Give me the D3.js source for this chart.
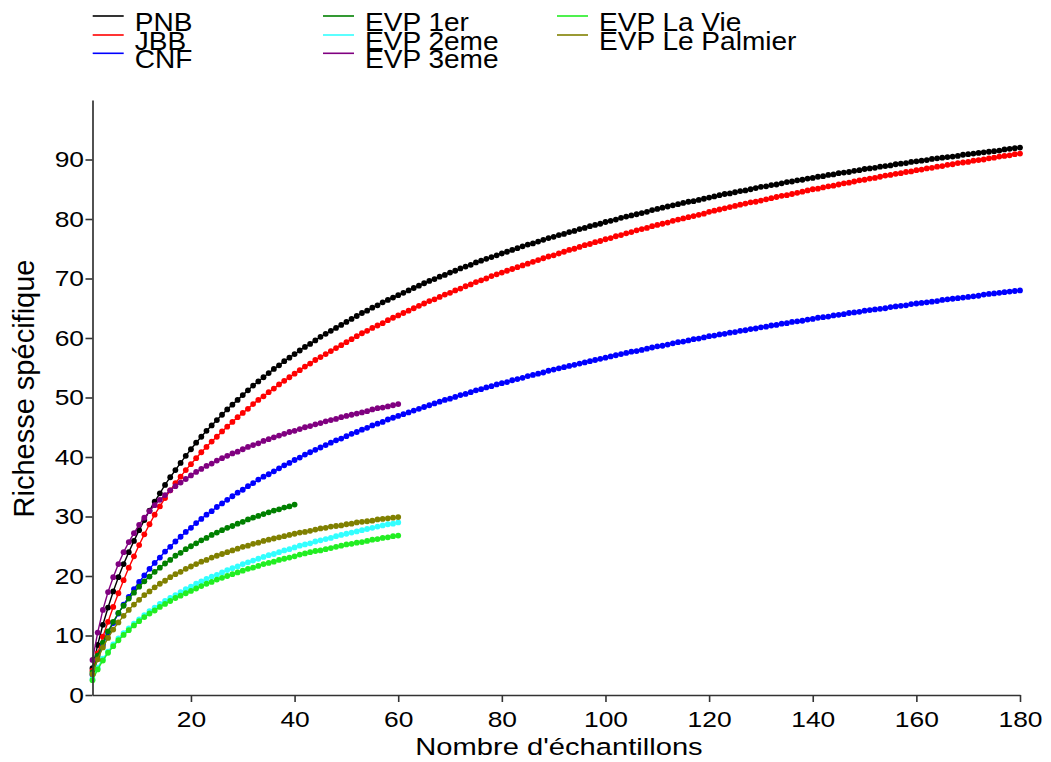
<!DOCTYPE html>
<html><head><meta charset="utf-8">
<script src="https://cdn.jsdelivr.net/npm/d3@7"></script>
<style>
body{margin:0;background:#fff;}
svg text{font-family:"Liberation Sans",Arial,sans-serif;fill:#000;}
</style></head><body>
<svg id="chart" width="1051" height="762"></svg>
<script>
// ---- data (species richness by number of samples) ----
const seriesNames = ["PNB","JBB","CNF","EVP 1er","EVP 2eme","EVP 3eme","EVP La Vie","EVP Le Palmier"];
const seriesColors = ["#000000","#ff0000","#0000ff","#008000","#33ffff","#800080","#22ee22","#808000"];
const xTickValues = [20,40,60,80,100,120,140,160,180];
const yTickValues = [0,10,20,30,40,50,60,70,80,90];

const PNB = [
4.5,8.4,11.8,14.7,17.4,19.8,22.0,24.0,25.9,27.7,
29.4,31.0,32.5,33.9,35.3,36.6,37.8,39.0,40.2,41.3,
42.4,43.4,44.4,45.3,46.2,47.1,48.0,48.8,49.6,50.4,
51.2,52.0,52.7,53.4,54.1,54.8,55.4,56.1,56.7,57.3,
57.9,58.5,59.0,59.6,60.2,60.7,61.2,61.7,62.2,62.7,
63.2,63.7,64.2,64.6,65.1,65.5,66.0,66.4,66.8,67.2,
67.6,68.0,68.4,68.8,69.2,69.6,69.9,70.3,70.6,71.0,
71.3,71.7,72.0,72.3,72.7,73.0,73.3,73.6,73.9,74.2,
74.5,74.8,75.1,75.4,75.7,75.9,76.2,76.5,76.8,77.0,
77.3,77.5,77.8,78.0,78.3,78.5,78.8,79.0,79.2,79.5,
79.7,79.9,80.2,80.4,80.6,80.8,81.0,81.2,81.5,81.7,
81.9,82.1,82.3,82.5,82.7,82.9,83.0,83.2,83.4,83.6,
83.8,84.0,84.2,84.3,84.5,84.7,84.8,85.0,85.2,85.4,
85.5,85.7,85.8,86.0,86.2,86.3,86.5,86.6,86.8,86.9,
87.1,87.2,87.4,87.5,87.7,87.8,87.9,88.1,88.2,88.4,
88.5,88.6,88.8,88.9,89.0,89.2,89.3,89.4,89.6,89.7,
89.8,89.9,90.1,90.2,90.3,90.4,90.5,90.6,90.8,90.9,
91.0,91.1,91.2,91.3,91.4,91.5,91.7,91.8,91.9,92.0];

const JBB = [
4.1,7.0,9.8,12.3,14.8,17.1,19.3,21.4,23.3,25.2,
27.0,28.7,30.3,31.7,33.1,34.4,35.6,36.7,37.8,38.8,
39.8,40.8,41.7,42.6,43.4,44.3,45.1,45.9,46.7,47.4,
48.1,48.9,49.6,50.2,50.9,51.5,52.2,52.8,53.4,54.0,
54.6,55.2,55.7,56.3,56.8,57.3,57.8,58.3,58.8,59.3,
59.8,60.3,60.8,61.2,61.7,62.1,62.5,63.0,63.4,63.8,
64.2,64.6,65.0,65.4,65.8,66.2,66.5,66.9,67.3,67.6,
68.0,68.3,68.7,69.0,69.4,69.7,70.0,70.4,70.7,71.0,
71.3,71.6,71.9,72.2,72.5,72.8,73.1,73.4,73.7,73.9,
74.2,74.5,74.8,75.0,75.3,75.6,75.8,76.1,76.3,76.6,
76.8,77.1,77.3,77.6,77.8,78.1,78.3,78.5,78.8,79.0,
79.2,79.4,79.7,79.9,80.1,80.3,80.5,80.7,80.9,81.2,
81.4,81.6,81.8,82.0,82.2,82.4,82.6,82.8,82.9,83.1,
83.3,83.5,83.7,83.9,84.0,84.2,84.4,84.6,84.8,85.0,
85.1,85.3,85.5,85.6,85.8,86.0,86.1,86.3,86.5,86.6,
86.8,86.9,87.1,87.3,87.4,87.6,87.7,87.9,88.0,88.2,
88.3,88.5,88.6,88.8,88.9,89.1,89.2,89.4,89.5,89.6,
89.8,89.9,90.0,90.2,90.3,90.5,90.6,90.7,90.9,91.0];

const CNF = [
3.4,6.1,8.4,10.4,12.1,13.7,15.2,16.5,17.8,19.0,
20.1,21.2,22.2,23.1,24.1,24.9,25.8,26.6,27.4,28.1,
28.9,29.6,30.3,30.9,31.6,32.2,32.8,33.4,34.0,34.5,
35.1,35.6,36.2,36.7,37.1,37.6,38.1,38.6,39.0,39.5,
39.9,40.4,40.8,41.2,41.6,42.0,42.4,42.8,43.1,43.5,
43.9,44.2,44.6,44.9,45.3,45.6,45.9,46.3,46.6,46.9,
47.2,47.5,47.8,48.1,48.4,48.7,49.0,49.3,49.6,49.8,
50.1,50.4,50.6,50.9,51.2,51.4,51.7,51.9,52.2,52.4,
52.6,52.9,53.1,53.3,53.6,53.8,54.0,54.2,54.5,54.7,
54.9,55.1,55.3,55.5,55.7,55.9,56.1,56.3,56.5,56.7,
56.9,57.1,57.3,57.5,57.7,57.8,58.0,58.2,58.4,58.6,
58.7,58.9,59.1,59.3,59.4,59.6,59.8,59.9,60.1,60.3,
60.4,60.6,60.7,60.9,61.0,61.2,61.3,61.5,61.6,61.8,
61.9,62.1,62.2,62.4,62.5,62.7,62.8,62.9,63.1,63.2,
63.4,63.5,63.6,63.8,63.9,64.0,64.2,64.3,64.4,64.6,
64.7,64.8,64.9,65.0,65.2,65.3,65.4,65.5,65.7,65.8,
65.9,66.0,66.1,66.2,66.4,66.5,66.6,66.7,66.8,66.9,
67.0,67.1,67.3,67.4,67.5,67.6,67.7,67.8,67.9,68.0];

const EVP_1er = [
3.8,6.6,8.8,10.7,12.3,13.8,15.0,16.2,17.2,18.2,
19.1,19.9,20.7,21.4,22.1,22.7,23.4,23.9,24.5,25.0,
25.5,26.0,26.4,26.9,27.3,27.7,28.1,28.4,28.8,29.1,
29.5,29.8,30.1,30.4,30.7,31.0,31.2,31.5,31.7,32.0];

const EVP_2eme = [
2.7,4.6,6.1,7.3,8.5,9.5,10.4,11.2,12.0,12.7,
13.4,14.1,14.7,15.3,15.8,16.3,16.8,17.3,17.8,18.2,
18.7,19.1,19.5,19.9,20.2,20.6,21.0,21.3,21.6,22.0,
22.3,22.6,22.9,23.2,23.5,23.7,24.0,24.3,24.5,24.8,
25.1,25.3,25.5,25.8,26.0,26.2,26.4,26.7,26.9,27.1,
27.3,27.5,27.7,27.9,28.1,28.3,28.5,28.7,28.8,29.0];

const EVP_3eme = [
5.9,10.5,14.3,17.3,19.8,22.0,24.0,25.7,27.2,28.6,
29.8,30.9,31.9,32.8,33.6,34.4,35.1,35.7,36.3,36.9,
37.5,38.0,38.5,38.9,39.4,39.8,40.2,40.6,40.9,41.3,
41.7,42.0,42.3,42.7,43.0,43.3,43.6,43.9,44.2,44.4,
44.7,45.0,45.2,45.5,45.7,46.0,46.2,46.4,46.7,46.9,
47.1,47.3,47.5,47.7,48.0,48.2,48.3,48.5,48.7,48.9];

const EVP_LaVie = [
2.5,4.3,5.8,7.1,8.2,9.2,10.1,10.9,11.7,12.4,
13.1,13.7,14.2,14.8,15.3,15.8,16.3,16.7,17.1,17.5,
17.9,18.3,18.7,19.0,19.4,19.7,20.0,20.3,20.6,20.9,
21.2,21.4,21.7,22.0,22.2,22.4,22.7,22.9,23.1,23.3,
23.6,23.8,24.0,24.2,24.3,24.5,24.7,24.9,25.1,25.3,
25.4,25.6,25.7,25.9,26.1,26.2,26.4,26.5,26.7,26.8];

const EVP_LePalmier = [
3.5,6.0,8.0,9.6,11.0,12.2,13.3,14.3,15.2,16.0,
16.8,17.4,18.1,18.7,19.2,19.8,20.3,20.7,21.2,21.6,
22.0,22.4,22.7,23.1,23.4,23.7,24.0,24.3,24.6,24.9,
25.1,25.4,25.6,25.9,26.1,26.3,26.5,26.7,26.9,27.1,
27.3,27.4,27.6,27.8,28.0,28.1,28.3,28.4,28.5,28.7,
28.8,29.0,29.1,29.2,29.3,29.5,29.6,29.7,29.8,29.9];

const seriesValues = [PNB, JBB, CNF, EVP_1er, EVP_2eme, EVP_3eme, EVP_LaVie, EVP_LePalmier];

// ---- drawing ----
const svg = d3.select("#chart");
const x = d3.scaleLinear().domain([1, 180]).range([92.5, 1020]);
const y = d3.scaleLinear().domain([0, 100]).range([695, 100]);
const axisColor = "#333";
const fontStack = "'Liberation Sans',Arial,sans-serif";

// series
const line = d3.line().x(d => x(d[0])).y(d => y(d[1]));
seriesValues.forEach((vals, k) => {
  const pts = vals.map((v, i) => [i + 1, v]);
  const g = svg.append("g");
  g.append("path").datum(pts).attr("d", line)
    .attr("fill", "none").attr("stroke", seriesColors[k]).attr("stroke-width", 1.4);
  g.selectAll("circle").data(pts).join("circle")
    .attr("cx", d => x(d[0])).attr("cy", d => y(d[1]))
    .attr("r", 2.9).attr("fill", seriesColors[k]);
});

// x axis
const gx = svg.append("g").attr("transform", "translate(0,695)")
  .call(d3.axisBottom(x).tickValues(xTickValues).tickSize(7).tickSizeOuter(0)
    .tickPadding(9.5).tickFormat(d3.format("d")));
gx.select(".domain").attr("stroke", axisColor).attr("stroke-width", 1.7);
gx.selectAll(".tick line").attr("stroke", axisColor).attr("stroke-width", 1.6);
gx.selectAll(".tick text").attr("font-size", 22).attr("fill", "#000")
  .attr("font-family", fontStack).attr("transform", "scale(1.2,1)");

// y axis
const gy = svg.append("g").attr("transform", "translate(92.5,0)")
  .call(d3.axisLeft(y).tickValues(yTickValues).tickSize(7).tickSizeOuter(0)
    .tickPadding(2).tickFormat(d3.format("d")));
gy.select(".domain").attr("stroke", axisColor).attr("stroke-width", 1.7);
gy.selectAll(".tick line").attr("stroke", axisColor).attr("stroke-width", 1.6);
gy.selectAll(".tick text").attr("font-size", 22).attr("fill", "#000")
  .attr("font-family", fontStack)
  .attr("x", -8.5 / 1.2).attr("transform", "scale(1.2,1)");

// axis titles
svg.append("text").attr("transform", "translate(559,755) scale(1.24,1)")
  .attr("text-anchor", "middle").attr("font-size", 23.5).text("Nombre d'échantillons");
svg.append("text").attr("transform", "translate(33.5,388.5) rotate(-90)")
  .attr("text-anchor", "middle").attr("font-size", 29).text("Richesse spécifique");

// legend
const legendColX = [92.7, 323, 557];
const legendRowY = [16, 35, 53.3];
seriesNames.forEach((name, i) => {
  const cx = legendColX[Math.floor(i / 3)], cy = legendRowY[i % 3];
  svg.append("line").attr("x1", cx).attr("x2", cx + 31).attr("y1", cy).attr("y2", cy)
    .attr("stroke", seriesColors[i]).attr("stroke-width", 1.6);
  svg.append("text").attr("transform", `translate(${cx + 42},${cy + 15}) scale(1.1,1)`)
    .attr("font-size", 25.5).text(name);
});
</script>
</body></html>
